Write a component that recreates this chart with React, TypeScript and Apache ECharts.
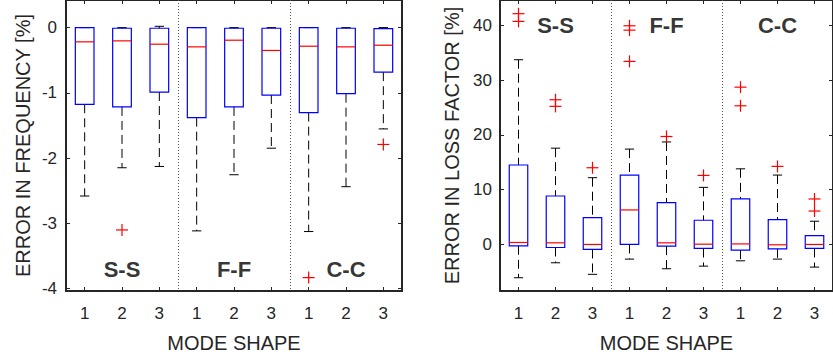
import React, { useEffect, useRef } from "react";
import * as echarts from "echarts";

// Categories (mode shapes, repeated per boundary condition)
const modeShapes = ["1", "2", "3", "1", "2", "3", "1", "2", "3"];
const groupLabels = ["S-S", "F-F", "C-C"];

// Frequency error boxes: [lowWhisker, Q1, median, Q3, highWhisker]
const freqBoxes = [
  [-2.58, -1.175, -0.218, 0, 0],
  [-2.147, -1.215, -0.203, -0.01, 0],
  [-2.127, -0.987, -0.254, -0.01, 0.02],
  [-3.114, -1.379, -0.295, 0, 0],
  [-2.254, -1.215, -0.193, -0.01, 0],
  [-1.847, -1.033, -0.35, -0.01, 0],
  [-3.124, -1.302, -0.285, 0, 0],
  [-2.437, -1.012, -0.295, -0.01, 0],
  [-1.552, -0.682, -0.27, -0.015, 0],
];
// Frequency outliers: [categoryIndex, value]
const freqOutliers = [
  [1, -3.1],
  [6, -3.83],
  [8, -1.79],
];

// Loss factor error boxes: [lowWhisker, Q1, median, Q3, highWhisker]
const lossBoxes = [
  [-6.07, -0.25, 0.36, 14.5, 33.7],
  [-3.34, -0.55, 0.3, 8.84, 17.57],
  [-5.45, -0.91, 0, 4.9, 12.18],
  [-2.67, 0, 6.3, 12.66, 17.4],
  [-4.43, -0.3, 0.3, 7.64, 18.7],
  [-3.95, -0.73, 0.05, 4.42, 10.42],
  [-2.98, -1.04, 0.1, 8.3, 13.8],
  [-2.67, -0.8, -0.06, 4.54, 12.66],
  [-4.13, -0.73, 0, 1.63, 4.24],
];
const lossOutliers = [
  [0, 42.1],
  [0, 40.7],
  [1, 26.4],
  [1, 25.2],
  [2, 14.0],
  [3, 39.9],
  [3, 39.1],
  [3, 33.4],
  [4, 19.7],
  [5, 12.6],
  [6, 28.7],
  [6, 25.3],
  [7, 14.24],
  [8, 8.3],
  [8, 6.1],
];

const freqTicks = [-4, -3, -2, -1, 0];
const lossTicks = [0, 10, 20, 30, 40];
const freqRange = [-4.035, 0.423];
const lossRange = [-8.49, 44.6];
const freqLabelY = -3.71;
const lossLabelY = 39.9;
const separatorsAfter = [2, 5];

const FONT = "'Liberation Sans', Arial, Helvetica, sans-serif";
const AXIS = "#262626";

function boxRender(params: any, api: any) {
  const x = api.value(0);
  const lo = api.coord([x, api.value(1)]);
  const q1 = api.coord([x, api.value(2)]);
  const med = api.coord([x, api.value(3)]);
  const q3 = api.coord([x, api.value(4)]);
  const hi = api.coord([x, api.value(5)]);
  const band = api.size([1, 0])[0];
  const bw = band * 0.5;
  const cw = bw * 0.5;
  const cx = lo[0];
  const dash = { stroke: "#000", lineWidth: 1, lineDash: [9, 5], fill: "none" };
  const solid = { stroke: "#000", lineWidth: 1, fill: "none" };
  return {
    type: "group",
    children: [
      { type: "line", shape: { x1: cx, y1: hi[1], x2: cx, y2: q3[1] }, style: dash },
      { type: "line", shape: { x1: cx, y1: q1[1], x2: cx, y2: lo[1] }, style: dash },
      { type: "line", shape: { x1: cx - cw / 2, y1: hi[1], x2: cx + cw / 2, y2: hi[1] }, style: solid },
      { type: "line", shape: { x1: cx - cw / 2, y1: lo[1], x2: cx + cw / 2, y2: lo[1] }, style: solid },
      {
        type: "rect",
        shape: { x: cx - bw / 2, y: q3[1], width: bw, height: q1[1] - q3[1] },
        style: { fill: "none", stroke: "#0000ff", lineWidth: 1.2 },
      },
      {
        type: "line",
        shape: { x1: cx - bw / 2, y1: med[1], x2: cx + bw / 2, y2: med[1] },
        style: { stroke: "#ff0000", lineWidth: 1.2 },
      },
    ],
  };
}

function plusRender(params: any, api: any) {
  const p = api.coord([api.value(0), api.value(1)]);
  const h = 6;
  const st = { stroke: "#ff0000", lineWidth: 1.2 };
  return {
    type: "group",
    children: [
      { type: "line", shape: { x1: p[0] - h, y1: p[1], x2: p[0] + h, y2: p[1] }, style: st },
      { type: "line", shape: { x1: p[0], y1: p[1] - h, x2: p[0], y2: p[1] + h }, style: st },
    ],
  };
}

function sepRender(params: any, api: any) {
  const i = api.value(0);
  const c = api.coord([i, 0]);
  const band = api.size([1, 0])[0];
  const cs = params.coordSys;
  const x = Math.round(c[0] + band / 2) + 0.5;
  return {
    type: "line",
    shape: { x1: x, y1: cs.y, x2: x, y2: cs.y + cs.height },
    style: { stroke: "#555", lineWidth: 1, lineDash: [1, 2] },
  };
}

function makeAxes(gi: number, range: number[], ticks: number[], title: string, nameGap: number, labelMargin: number) {
  const xBottom = {
    type: "category",
    gridIndex: gi,
    data: modeShapes,
    boundaryGap: true,
    position: "bottom",
    axisLine: { show: true, onZero: false, lineStyle: { color: AXIS, width: 2 } },
    axisTick: { show: true, inside: true, alignWithLabel: true, length: 4, lineStyle: { color: AXIS, width: 1 } },
    axisLabel: { color: AXIS, fontSize: 17, fontFamily: FONT, margin: 14, formatter: (v: string, idx: number) => modeShapes[idx] },
    splitLine: { show: false },
    name: "MODE SHAPE",
    nameLocation: "middle",
    nameGap: 42,
    nameTextStyle: { color: AXIS, fontSize: 20, fontFamily: FONT },
  };
  const xTop = {
    type: "category",
    gridIndex: gi,
    data: modeShapes,
    boundaryGap: true,
    position: "top",
    axisLine: { show: true, onZero: false, lineStyle: { color: AXIS, width: 1 } },
    axisTick: { show: true, inside: true, alignWithLabel: true, length: 4, lineStyle: { color: AXIS, width: 1 } },
    axisLabel: { show: false },
    splitLine: { show: false },
  };
  const yLeft = {
    type: "value",
    gridIndex: gi,
    min: range[0],
    max: range[1],
    position: "left",
    axisLine: { show: true, onZero: false, lineStyle: { color: AXIS, width: 2 } },
    axisTick: { show: true, inside: true, length: 4, customValues: ticks, lineStyle: { color: AXIS, width: 1 } },
    axisLabel: { color: AXIS, fontSize: 17, fontFamily: FONT, margin: labelMargin, customValues: ticks, showMinLabel: true, showMaxLabel: true },
    splitLine: { show: false },
    name: title,
    nameLocation: "middle",
    nameGap: nameGap,
    nameTextStyle: { color: AXIS, fontSize: 20, fontFamily: FONT },
  };
  const yRight = {
    type: "value",
    gridIndex: gi,
    min: range[0],
    max: range[1],
    position: "right",
    axisLine: { show: true, onZero: false, lineStyle: { color: AXIS, width: 2 } },
    axisTick: { show: true, inside: true, length: 4, customValues: ticks, lineStyle: { color: AXIS, width: 1 } },
    axisLabel: { show: false },
    splitLine: { show: false },
  };
  return { x: [xBottom, xTop], y: [yLeft, yRight] };
}

export default function App() {
  const ref = useRef<HTMLDivElement>(null);
  useEffect(() => {
    if (!ref.current) return;
    const chart = echarts.init(ref.current, null, { renderer: "svg" });
    const a0 = makeAxes(0, freqRange, freqTicks, "ERROR IN FREQUENCY [%]", 33, 9);
    const a1 = makeAxes(1, lossRange, lossTicks, "ERROR IN LOSS FACTOR [%]", 38, 8);
    const toBox = (arr: number[][]) => arr.map((b, i) => [i, ...b]);
    const labelSeries = (xi: number, yi: number, y: number) => ({
      type: "scatter",
      xAxisIndex: xi,
      yAxisIndex: yi,
      symbolSize: 0,
      silent: true,
      data: groupLabels.map((g, i) => ({ name: g, value: [i * 3 + 1, y] })),
      label: {
        show: true,
        position: "inside",
        formatter: (p: any) => p.name,
        color: "#000",
        fontSize: 22,
        fontWeight: "bold",
        fontFamily: FONT,
      },
    });
    const option: any = {
      animation: false,
      backgroundColor: "#ffffff",
      grid: [
        { left: 66, top: -1, width: 336, height: 292 },
        { left: 500, top: -1, width: 335, height: 292 },
      ],
      xAxis: [...a0.x, ...a1.x],
      yAxis: [...a0.y, ...a1.y],
      series: [
        { type: "custom", xAxisIndex: 0, yAxisIndex: 0, renderItem: sepRender, data: separatorsAfter.map((s) => [s]), silent: true, clip: false },
        { type: "custom", xAxisIndex: 0, yAxisIndex: 0, renderItem: boxRender, data: toBox(freqBoxes), encode: { x: 0, y: [1, 2, 3, 4, 5] } },
        { type: "custom", xAxisIndex: 0, yAxisIndex: 0, renderItem: plusRender, data: freqOutliers, encode: { x: 0, y: 1 } },
        labelSeries(0, 0, freqLabelY),
        { type: "custom", xAxisIndex: 2, yAxisIndex: 2, renderItem: sepRender, data: separatorsAfter.map((s) => [s]), silent: true, clip: false },
        { type: "custom", xAxisIndex: 2, yAxisIndex: 2, renderItem: boxRender, data: toBox(lossBoxes), encode: { x: 0, y: [1, 2, 3, 4, 5] } },
        { type: "custom", xAxisIndex: 2, yAxisIndex: 2, renderItem: plusRender, data: lossOutliers, encode: { x: 0, y: 1 } },
        labelSeries(2, 2, lossLabelY),
      ],
    };
    chart.setOption(option);
    return () => chart.dispose();
  }, []);
  return (
    <div style={{ position: "fixed", left: 0, top: 0, width: 833, height: 362, background: "#fff" }}>
      <div ref={ref} style={{ width: 833, height: 362 }} />
    </div>
  );
}
